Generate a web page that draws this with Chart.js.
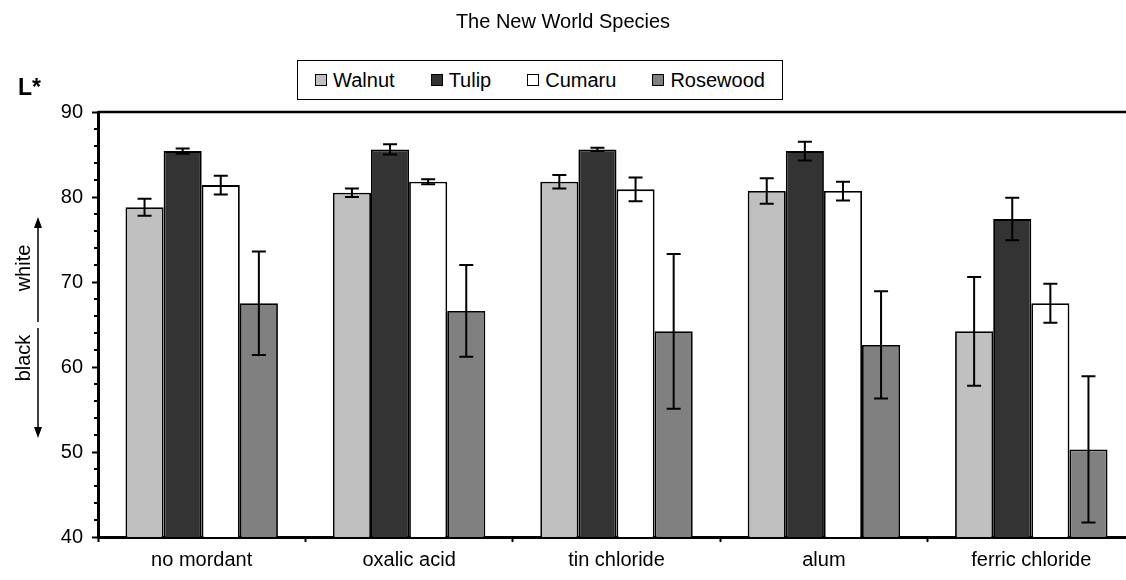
<!DOCTYPE html>
<html>
<head>
<meta charset="utf-8">
<script src="https://cdn.jsdelivr.net/npm/chart.js@4.4.1/dist/chart.umd.min.js"></script>
<style>
  html, body { margin: 0; padding: 0; background: #fff; overflow: hidden; }
  #wrap { position: relative; width: 1126px; height: 580px; overflow: hidden; font-family: 'Liberation Sans', Arial, sans-serif; color: #000; }
  #c { position: absolute; left: 0; top: 0; }
  #title { position: absolute; left: 0; width: 1126px; top: 10px; text-align: center; font-size: 20px; }
  #lstar { position: absolute; left: 18px; top: 74px; font-size: 23px; font-weight: bold; }
  .side { position: absolute; font-size: 20px; transform: rotate(-90deg); transform-origin: center center; white-space: nowrap; width: 80px; text-align: center; height: 24px; line-height: 24px; }
  #legend { position: absolute; left: 297px; top: 60px; width: 484px; height: 38px; border: 1.5px solid #000; display: flex; align-items: center; justify-content: center; font-size: 20px; background: #fff; }
  .li { display: flex; align-items: center; margin: 0 18px; }
  .sw { width: 10px; height: 10px; border: 1px solid #000; margin-right: 6px; }
</style>
</head>
<body>
<div id="wrap">
  <canvas id="c" width="1136" height="580" style="width:1136px;height:580px"></canvas>
  <div id="title">The New World Species</div>
  <div id="lstar">L*</div>
  <div class="side" id="white" style="left:-17px; top:256px;">white</div>
  <div class="side" id="black" style="left:-17px; top:346px;">black</div>
  <div id="legend"></div>
</div>
<script>
const categories = ["no mordant", "oxalic acid", "tin chloride", "alum", "ferric chloride"];
const seriesNames = ["Walnut", "Tulip", "Cumaru", "Rosewood"];
const walnut   = [78.8, 80.5, 81.8, 80.7, 64.2];
const tulip    = [85.4, 85.6, 85.6, 85.4, 77.4];
const cumaru   = [81.4, 81.8, 80.9, 80.7, 67.5];
const rosewood = [67.5, 66.6, 64.2, 62.6, 50.3];
const walnutErr   = [1.0, 0.5, 0.8, 1.5, 6.4];
const tulipErr    = [0.3, 0.6, 0.2, 1.1, 2.5];
const cumaruErr   = [1.1, 0.3, 1.4, 1.1, 2.3];
const rosewoodErr = [6.1, 5.4, 9.1, 6.3, 8.6];
const yTicks = [40, 50, 60, 70, 80, 90];
const colors = ["#c0c0c0", "#333333", "#ffffff", "#808080"];

const values = [walnut, tulip, cumaru, rosewood];
const errors = [walnutErr, tulipErr, cumaruErr, rosewoodErr];

// HTML legend
const leg = document.getElementById('legend');
seriesNames.forEach((n, i) => {
  const d = document.createElement('div'); d.className = 'li';
  const s = document.createElement('div'); s.className = 'sw'; s.style.background = colors[i];
  const t = document.createElement('span'); t.textContent = n;
  d.appendChild(s); d.appendChild(t); leg.appendChild(d);
});

const errorBars = {
  id: 'errorBars',
  afterDatasetsDraw(chart) {
    const ctx = chart.ctx, ys = chart.scales.y;
    ctx.save();
    ctx.strokeStyle = '#000'; ctx.lineWidth = 2;
    chart.data.datasets.forEach((ds, i) => {
      const meta = chart.getDatasetMeta(i);
      meta.data.forEach((bar, j) => {
        const v = ds.data[j], e = errors[i][j];
        const x = bar.x, y1 = ys.getPixelForValue(v + e), y2 = ys.getPixelForValue(v - e);
        ctx.beginPath();
        ctx.moveTo(x, y1); ctx.lineTo(x, y2);
        ctx.moveTo(x - 7, y1); ctx.lineTo(x + 7, y1);
        ctx.moveTo(x - 7, y2); ctx.lineTo(x + 7, y2);
        ctx.stroke();
      });
    });
    ctx.restore();
  }
};

const decor = {
  id: 'decor',
  afterDraw(chart) {
    const ctx = chart.ctx, a = chart.chartArea, ys = chart.scales.y;
    ctx.save();
    ctx.strokeStyle = '#000'; ctx.fillStyle = '#000';
    // top frame
    ctx.lineWidth = 2.5;
    ctx.beginPath(); ctx.moveTo(a.left, a.top); ctx.lineTo(a.right + 5, a.top); ctx.stroke();
    // minor ticks
    ctx.lineWidth = 2;
    for (let v = 42; v < 90; v += 2) {
      if (v % 10 === 0) continue;
      const y = ys.getPixelForValue(v);
      ctx.beginPath(); ctx.moveTo(a.left - 4, y); ctx.lineTo(a.left, y); ctx.stroke();
    }
    // arrows
    const ax = 38;
    ctx.lineWidth = 1.5;
    ctx.beginPath(); ctx.moveTo(ax, 226); ctx.lineTo(ax, 322); ctx.stroke();
    ctx.beginPath(); ctx.moveTo(ax, 217); ctx.lineTo(ax - 4, 228); ctx.lineTo(ax + 4, 228); ctx.closePath(); ctx.fill();
    ctx.beginPath(); ctx.moveTo(ax, 328); ctx.lineTo(ax, 428); ctx.stroke();
    ctx.beginPath(); ctx.moveTo(ax, 438); ctx.lineTo(ax - 4, 427); ctx.lineTo(ax + 4, 427); ctx.closePath(); ctx.fill();
    ctx.restore();
  }
};

Chart.defaults.font.family = "'Liberation Sans', Arial, sans-serif";
Chart.defaults.font.size = 20;
Chart.defaults.color = '#000';

new Chart(document.getElementById('c'), {
  type: 'bar',
  data: {
    labels: categories,
    datasets: seriesNames.map((n, i) => ({
      label: n,
      data: values[i],
      backgroundColor: colors[i],
      borderColor: '#000',
      borderWidth: 1.8,
      borderSkipped: 'start',
      categoryPercentage: 0.735,
      barPercentage: 1.0
    }))
  },
  options: {
    responsive: false,
    animation: false,
    layout: { padding: { top: 112, right: 1, left: 0, bottom: 0 } },
    plugins: { legend: { display: false }, title: { display: false }, tooltip: { enabled: false } },
    scales: {
      x: {
        offset: true,
        grid: { offset: true, drawOnChartArea: false, tickLength: 5, tickWidth: 2, tickColor: '#000' },
        border: { display: true, color: '#000', width: 3 },
        ticks: { padding: 6, maxRotation: 0, autoSkip: false },
        afterFit(s) { s.height = 43; }
      },
      y: {
        min: 40, max: 90,
        afterBuildTicks(s) { s.ticks = yTicks.map(v => ({ value: v })); },
        grid: { drawOnChartArea: false, tickLength: 6, tickWidth: 2, tickColor: '#000' },
        border: { display: true, color: '#000', width: 3 },
        ticks: { padding: 9 },
        afterFit(s) { s.width = 98; }
      }
    }
  },
  plugins: [errorBars, decor]
});
</script>
</body>
</html>
